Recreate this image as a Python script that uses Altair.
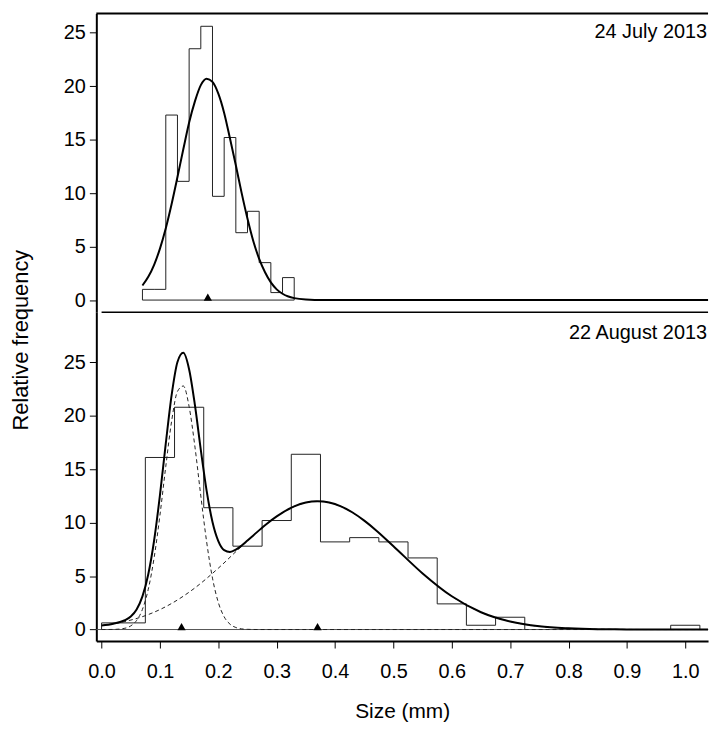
import altair as alt
import pandas as pd

# ---------------- data ----------------
# Top panel: 24 July 2013 (bins of 0.02 mm)
top_edges = [0.07, 0.09, 0.11, 0.13, 0.15, 0.17, 0.19, 0.21, 0.23, 0.25, 0.27, 0.29, 0.31, 0.33]
top_freq = [1.0, 1.0, 17.3, 11.1, 23.5, 25.6, 9.7, 15.2, 6.3, 8.3, 3.5, 0.7, 2.1]
top_curve_x = [0.07, 0.08, 0.09, 0.10, 0.11, 0.12, 0.13, 0.14, 0.15, 0.16, 0.17, 0.18, 0.19,
               0.20, 0.21, 0.22, 0.23, 0.24, 0.25, 0.26, 0.27, 0.28, 0.29, 0.30, 0.31, 0.32,
               0.33, 0.35, 0.38, 1.039]
top_curve_y = [1.36, 2.17, 3.30, 4.81, 6.72, 8.99, 11.5, 14.1, 16.6, 18.6, 20.1, 20.7, 20.4,
               19.3, 17.5, 15.1, 12.6, 10.0, 7.6, 5.5, 3.85, 2.6, 1.65, 1.0, 0.59, 0.33,
               0.18, 0.05, 0.0, 0.0]
top_means = [0.182]

# Bottom panel: 22 August 2013 (bins of 0.05 mm)
bot_edges = [0.0, 0.075, 0.125, 0.175, 0.225, 0.275, 0.325, 0.375, 0.425, 0.475, 0.525,
             0.575, 0.625, 0.675, 0.725]
bot_freq = [0.62, 16.1, 20.8, 11.4, 7.8, 10.2, 16.4, 8.2, 8.6, 8.2, 6.7, 2.4, 0.4, 1.15]
bot_extra_edges = [0.975, 1.025]
bot_extra_freq = [0.4]

bot_total_x = [0.00, 0.02, 0.04, 0.05, 0.06, 0.07, 0.08, 0.09, 0.10, 0.11, 0.12, 0.13, 0.14,
               0.15, 0.16, 0.17, 0.18, 0.19, 0.20, 0.21, 0.22, 0.23, 0.24, 0.25, 0.26, 0.28,
               0.30, 0.33, 0.35, 0.37, 0.39, 0.41, 0.43, 0.45, 0.47, 0.50, 0.55, 0.60, 0.65,
               0.70, 0.75, 0.80, 0.85, 0.90, 0.95, 1.039]
bot_total_y = [0.37, 0.54, 0.87, 1.22, 1.88, 3.10, 5.17, 8.33, 12.57, 17.41, 21.94, 25.04, 25.90,
               24.34, 20.97, 16.82, 12.98, 10.06, 8.27, 7.43, 7.26, 7.47, 7.86, 8.33, 8.81, 9.76,
               10.59, 11.52, 11.88, 12.0, 11.88, 11.52, 10.95, 10.19, 9.30, 7.80, 5.25, 3.11, 1.62,
               0.75, 0.30, 0.11, 0.03, 0.01, 0.0, 0.0]
bot_comp1_x = [0.00, 0.02, 0.04, 0.05, 0.06, 0.07, 0.08, 0.09, 0.10, 0.11, 0.12, 0.13, 0.14,
               0.15, 0.16, 0.17, 0.18, 0.19, 0.20, 0.21, 0.22, 0.23, 0.24, 0.25, 0.27, 1.039]
bot_comp1_y = [0.0, 0.01, 0.12, 0.34, 0.85, 1.89, 3.77, 6.71, 10.70, 15.27, 19.50, 22.28, 22.79,
               20.85, 17.07, 12.50, 8.20, 4.81, 2.53, 1.19, 0.50, 0.19, 0.06, 0.02, 0.0, 0.0]
bot_comp2_x = [0.00, 0.04, 0.08, 0.12, 0.16, 0.20, 0.24, 0.28, 0.33, 0.37, 0.41, 0.45, 0.50,
               0.55, 0.60, 0.65, 0.70, 0.75, 0.80, 0.85, 0.90, 0.95, 1.039]
bot_comp2_y = [0.37, 0.75, 1.40, 2.44, 3.90, 5.74, 7.80, 9.76, 11.52, 12.0, 11.52, 10.19, 7.80,
               5.25, 3.11, 1.62, 0.75, 0.30, 0.11, 0.03, 0.01, 0.0, 0.0]
bot_means = [0.137, 0.37]

x_ticks = [0.0, 0.1, 0.2, 0.3, 0.4, 0.5, 0.6, 0.7, 0.8, 0.9, 1.0]
y_ticks = [0, 5, 10, 15, 20, 25]
top_label = "24 July 2013"
bot_label = "22 August 2013"
x_title = "Size (mm)"
y_title = "Relative frequency"

# ---------------- helpers ----------------
def step_rows(edges, freqs, seg):
    rows = [{"x": edges[0], "y": 0.0, "seg": seg, "i": 0}]
    for k, v in enumerate(freqs):
        rows.append({"x": edges[k], "y": v, "seg": seg, "i": k + 1})
    rows.append({"x": edges[-1], "y": 0.0, "seg": seg, "i": len(freqs) + 1})
    return rows

FONT = "Liberation Sans"
W = 616
H_TOP = 301
H_BOT = 331
one = pd.DataFrame({"a": [0]})

x_scale = alt.Scale(domain=[-0.009, 1.039], nice=False, zero=False)
top_y = alt.Scale(domain=[-1.15, 26.8], nice=False, zero=False)
bot_y = alt.Scale(domain=[-1.08, 29.68], nice=False, zero=False)

y_axis = alt.Axis(values=y_ticks, title=None, grid=False, domainColor="black", domainWidth=2,
                  tickColor="black", tickSize=7, tickWidth=1, labelFont=FONT, labelFontSize=20,
                  labelColor="black", labelPadding=4)
x_axis = alt.Axis(values=x_ticks, format=".1f", title=x_title, grid=False, domainColor="black",
                  domainWidth=2, tickColor="black", tickSize=7, tickWidth=1, labelFont=FONT,
                  labelFontSize=20, labelColor="black", labelPadding=14, titleFont=FONT,
                  titleFontSize=21, titleFontWeight="normal", titleColor="black", titlePadding=19)

# ---------------- top panel ----------------
df_top_hist = pd.DataFrame(step_rows(top_edges, top_freq, "a"))
df_top_curve = pd.DataFrame({"x": top_curve_x, "y": top_curve_y})
df_top_means = pd.DataFrame({"x": top_means, "y": [0.0] * len(top_means)})

t_hist = alt.Chart(df_top_hist).mark_line(interpolate="step-after", color="#222", strokeWidth=1).encode(
    x=alt.X("x:Q", scale=x_scale, axis=None),
    y=alt.Y("y:Q", scale=top_y, axis=y_axis),
    order="i:Q", detail="seg:N")
t_base = alt.Chart(one).mark_rule(color="#222", strokeWidth=1).encode(
    x=alt.datum(top_edges[0]), x2=alt.datum(top_edges[-1]), y=alt.datum(0))
t_curve = alt.Chart(df_top_curve).mark_line(interpolate="monotone", color="black", strokeWidth=2).encode(
    x=alt.X("x:Q", scale=x_scale), y=alt.Y("y:Q", scale=top_y))
t_mean = alt.Chart(df_top_means).mark_point(shape="triangle-up", filled=True, color="black",
                                            size=70, opacity=1, yOffset=-3).encode(
    x=alt.X("x:Q", scale=x_scale), y=alt.Y("y:Q", scale=top_y))
t_top_rule = alt.Chart(one).mark_rule(color="black", strokeWidth=2).encode(
    x=alt.value(0), x2=alt.value(W), y=alt.value(0))
t_sep = alt.Chart(one).mark_rule(color="black", strokeWidth=1.5).encode(
    x=alt.datum(0.0), x2=alt.value(W), y=alt.value(H_TOP))
t_label = alt.Chart(one).mark_text(align="right", baseline="alphabetic", font=FONT, fontSize=20,
                                   color="black").encode(
    x=alt.value(W - 1), y=alt.value(25), text=alt.value(top_label))
t_ytitle = alt.Chart(one).mark_text(align="center", baseline="middle", angle=270, font=FONT,
                                    fontSize=22, color="black").encode(
    x=alt.value(-76), y=alt.value(329), text=alt.value(y_title))

top = alt.layer(t_hist, t_base, t_curve, t_mean, t_top_rule, t_sep, t_label, t_ytitle).properties(
    width=W, height=H_TOP)

# ---------------- bottom panel ----------------
df_bot_hist = pd.DataFrame(step_rows(bot_edges, bot_freq, "a") +
                           step_rows(bot_extra_edges, bot_extra_freq, "b"))
df_total = pd.DataFrame({"x": bot_total_x, "y": bot_total_y})
df_comp = pd.DataFrame({"x": bot_comp1_x + bot_comp2_x,
                        "y": bot_comp1_y + bot_comp2_y,
                        "c": ["1"] * len(bot_comp1_x) + ["2"] * len(bot_comp2_x)})
df_bot_means = pd.DataFrame({"x": bot_means, "y": [0.0] * len(bot_means)})

b_base = alt.Chart(one).mark_rule(color="#555", strokeWidth=1).encode(
    x=alt.value(0), x2=alt.value(W), y=alt.datum(0))
b_hist = alt.Chart(df_bot_hist).mark_line(interpolate="step-after", color="#222", strokeWidth=1).encode(
    x=alt.X("x:Q", scale=x_scale, axis=x_axis),
    y=alt.Y("y:Q", scale=bot_y, axis=y_axis),
    order="i:Q", detail="seg:N")
b_comp = alt.Chart(df_comp).mark_line(interpolate="monotone", color="#222", strokeWidth=1,
                                      strokeDash=[4, 3]).encode(
    x=alt.X("x:Q", scale=x_scale), y=alt.Y("y:Q", scale=bot_y), detail="c:N")
b_total = alt.Chart(df_total).mark_line(interpolate="monotone", color="black", strokeWidth=2).encode(
    x=alt.X("x:Q", scale=x_scale), y=alt.Y("y:Q", scale=bot_y))
b_mean = alt.Chart(df_bot_means).mark_point(shape="triangle-up", filled=True, color="black",
                                            size=70, opacity=1, yOffset=-3).encode(
    x=alt.X("x:Q", scale=x_scale), y=alt.Y("y:Q", scale=bot_y))
b_label = alt.Chart(one).mark_text(align="right", baseline="alphabetic", font=FONT, fontSize=20,
                                   color="black").encode(
    x=alt.value(W - 1), y=alt.value(27), text=alt.value(bot_label))

bottom = alt.layer(b_base, b_hist, b_comp, b_total, b_mean, b_label).properties(width=W, height=H_BOT)

chart = alt.vconcat(top, bottom, spacing=0, bounds="flush").configure_view(
    stroke=None).properties(padding={"left": 10, "top": 10, "right": 4, "bottom": 5},
                            background="white")

chart.save("out.html", embed_options={"renderer": "svg", "actions": False})
